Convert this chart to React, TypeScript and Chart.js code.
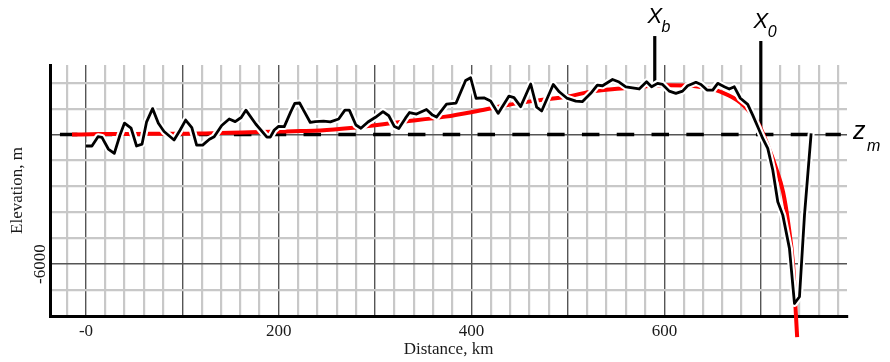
import { useEffect, useRef } from "react";
import { Chart, registerables } from "chart.js";

Chart.register(...registerables);

// Observed topography/bathymetry profile (black)
const distanceKm = [
  0, 6.2, 12.5, 16.6, 23.2, 29.4, 35.3, 40, 46.8, 52.5,
  58.2, 62.9, 69.1, 75.1, 81, 91.4, 97.7, 103.4, 109.8, 114.8,
  121, 128.1, 133, 140.8, 148.6, 154.8, 161, 165.9, 176.1, 187.7,
  191.2, 195.3, 199.8, 205.7, 212.5, 216.6, 221.6, 226.5, 232.7, 237.9,
  246.5, 253.5, 262.1, 268.6, 273.2, 280, 285.2, 292.5, 300.3, 308.1,
  314.1, 320, 324.5, 331.4, 335.6, 342.9, 353.2, 359.5, 363.6, 374,
  383.9, 393.8, 399, 404.7, 412.8, 419.7, 427.5, 438.8, 444, 450.9,
  461.3, 467.5, 472.7, 484.7, 490.9, 498.7, 508.1, 514.8, 523.6, 530.4,
  535.8, 546.2, 553, 560, 573.8, 581.5, 586.7, 592.9, 598.1, 605,
  611.9, 618.9, 624.1, 632.7, 638, 644.2, 650.1, 655.3, 662.1, 667.3,
  672.5, 678.8, 686.4, 691.6, 697.5, 702, 707.2, 712.4, 717.6, 722.8,
  729.7, 734.9, 740.1, 745.3, 752.2,
];
const elevationM = [
  -530, -530, -100, -130, -670, -870, -20, 530, 300, -530,
  -440, 590, 1200, 520, 140, -250, 210, 670, 320, -490,
  -490, -220, -100, 420, 720, 600, 790, 1130, 490, -120,
  -120, 210, 380, 370, 1060, 1440, 1460, 1060, 560, 600,
  620, 590, 720, 1130, 1130, 440, 290, 580, 800, 1060,
  870, 370, 280, 760, 1020, 950, 1160, 900, 810, 1410,
  1460, 2500, 2630, 1680, 1700, 1550, 980, 1780, 1710, 1290,
  2340, 1270, 1090, 2320, 1980, 1690, 1550, 1520, 1910, 2290,
  2260, 2550, 2430, 2210, 2110, 2440, 2210, 2370, 2320, 2010,
  1910, 2010, 2260, 2420, 2320, 2060, 2060, 2370, 2210, 2110,
  2210, 1680, 1400, 900, 290, -180, -640, -1640, -3110, -3730,
  -5270, -7820, -7510, -3730, 50,
];

// Model flexure profile (red)
const modelKm = [
  -14.5, 14.5, 66.5, 118.4, 170.4, 201.6, 222.3, 243.1, 274.3, 326.2,
  373, 402, 437.4, 471.7, 497.7, 526.8, 554.8, 578.7, 603.6, 622.3,
  638, 658.7, 679.5, 697.1, 707.5, 715.8, 723.1, 728.3, 733.5, 736.6, 737.7,
];
const modelM = [
  0, 20, 35, 50, 110, 140, 160, 185, 300, 580,
  830, 1055, 1370, 1600, 1750, 2010, 2130, 2230, 2280, 2270,
  2200, 1970, 1455, 530, -530, -1550, -2660, -4050, -6040, -8500, -9380,
];

// Mean level z_m (dashed)
const meanLevelKm = [-27, 783];
const meanLevelM = [0, 0];

// Markers X_b and X_0
const markerNames = ["X", "X"];
const markerSubs = ["b", "0"];
const markerKm = [590, 700];
const markerTopM = [4560, 4330];
const markerBaseM = [2400, 0];

// Axis ticks / grid
const xGridKm = [
  -20, 0, 20, 40, 60, 80, 100, 120, 140, 160, 180, 200, 220, 240, 260, 280,
  300, 320, 340, 360, 380, 400, 420, 440, 460, 480, 500, 520, 540, 560, 580,
  600, 620, 640, 660, 680, 700, 720, 740, 760, 780,
];
const xMajorKm = [0, 100, 200, 300, 400, 500, 600, 700];
const xTickValues = [0, 200, 400, 600];
const xTickLabels = ["-0", "200", "400", "600"];
const yGridM = [-7200, -6000, -4800, -3600, -2400, -1200, 0, 1200, 2400];
const yMajorM = [-6000, 0];
const yTickValues = [-6000];
const yTickLabels = ["-6000"];

const SERIF = '"Liberation Serif", "Times New Roman", serif';
const SANS = '"Liberation Sans", Arial, sans-serif';

const has = (arr: number[], v: number) => arr.some((t) => Math.abs(t - v) < 1e-6);

const annotationPlugin = {
  id: "annotations",
  afterDatasetsDraw(chart: any) {
    const { ctx, scales } = chart;
    const x = scales.x;
    const y = scales.y;
    ctx.save();
    ctx.fillStyle = "#000";
    ctx.textBaseline = "alphabetic";
    markerKm.forEach((km, i) => {
      const px = x.getPixelForValue(km);
      const top = y.getPixelForValue(markerTopM[i]);
      ctx.font = `italic 22px ${SANS}`;
      ctx.textAlign = "center";
      ctx.fillText(markerNames[i], px, top - 13);
      const w = ctx.measureText(markerNames[i]).width;
      ctx.font = `italic 16px ${SANS}`;
      ctx.textAlign = "left";
      ctx.fillText(markerSubs[i], px + w / 2 - 0.5, top - 4);
    });
    const zx = chart.chartArea.right + 6;
    const zy = y.getPixelForValue(meanLevelM[0]);
    ctx.textAlign = "left";
    ctx.font = `italic 25px ${SANS}`;
    ctx.fillText("z", zx, zy + 4);
    ctx.font = `italic 16px ${SANS}`;
    ctx.fillText("m", zx + 14, zy + 16);
    ctx.restore();
  },
};

export default function App() {
  const ref = useRef<HTMLCanvasElement>(null);

  useEffect(() => {
    const canvas = ref.current!;
    const profile = distanceKm.map((d, i) => ({ x: d, y: elevationM[i] }));
    const model = modelKm.map((d, i) => ({ x: d, y: modelM[i] }));
    const mean = meanLevelKm.map((d, i) => ({ x: d, y: meanLevelM[i] }));
    const markers = markerKm.map((km, i) => [
      { x: km, y: markerBaseM[i] },
      { x: km, y: markerTopM[i] },
    ]);

    const chart = new Chart(canvas, {
      type: "line",
      data: {
        datasets: [
          {
            label: "Elevation",
            data: profile,
            borderColor: "#000",
            borderWidth: 2.8,
            pointRadius: 0,
            borderJoinStyle: "round",
            tension: 0,
            order: 0,
          },
          {
            label: "halo",
            data: profile,
            borderColor: "#fff",
            borderWidth: 7,
            pointRadius: 0,
            borderJoinStyle: "round",
            tension: 0,
            order: 1,
          },
          {
            label: "Model",
            data: model,
            borderColor: "#ff0000",
            borderWidth: 4,
            pointRadius: 0,
            cubicInterpolationMode: "monotone",
            clip: false,
            order: 2,
          },
          ...markers.map((m, i) => ({
            label: markerNames[i] + markerSubs[i],
            data: m,
            borderColor: "#000",
            borderWidth: 3.2,
            pointRadius: 0,
            clip: false,
            order: 3,
          })),
          {
            label: "z_m",
            data: mean,
            borderColor: "#000",
            borderWidth: 3.5,
            borderDash: [17.5, 17.3],
            pointRadius: 0,
            order: 4,
          },
        ] as any,
      },
      options: {
        animation: false,
        responsive: false,
        devicePixelRatio: 1,
        layout: { padding: { top: 65, right: 43, left: 0, bottom: 0 } },
        plugins: {
          legend: { display: false },
          tooltip: { enabled: false },
        },
        scales: {
          x: {
            type: "linear",
            min: -37.3,
            max: 789.4,
            afterBuildTicks: (s: any) => {
              s.ticks = xGridKm.map((value) => ({ value }));
            },
            afterFit: (s: any) => {
              s.height = 46;
            },
            ticks: {
              autoSkip: false,
              maxRotation: 0,
              minRotation: 0,
              padding: 5.8,
              color: "#1a1a1a",
              font: { family: SERIF, size: 17 },
              callback: (v: any) => {
                const idx = xTickValues.findIndex((t) => Math.abs(t - v) < 1e-6);
                return idx >= 0 ? xTickLabels[idx] : "";
              },
            },
            grid: {
              drawTicks: false,
              color: (c: any) => {
                const v = c.tick ? c.tick.value : NaN;
                return has(xMajorKm, v) ? "#555555" : "#c8c8c8";
              },
              lineWidth: (c: any) => {
                const v = c.tick ? c.tick.value : NaN;
                return has(xMajorKm, v) ? 1.4 : 2.2;
              },
            },
            border: { display: true, color: "#000", width: 3 },
            title: {
              display: true,
              text: "Distance, km",
              color: "#1a1a1a",
              font: { family: SERIF, size: 17 },
              padding: { top: 0, bottom: 1.8 },
            },
          },
          y: {
            type: "linear",
            min: -8400,
            max: 3220,
            afterBuildTicks: (s: any) => {
              s.ticks = yGridM.map((value) => ({ value }));
            },
            afterFit: (s: any) => {
              s.width = 50;
            },
            ticks: {
              autoSkip: false,
              minRotation: 90,
              maxRotation: 90,
              crossAlign: "center",
              padding: -10.3,
              color: "#1a1a1a",
              font: { family: SERIF, size: 17 },
              callback: (v: any) => {
                const idx = yTickValues.findIndex((t) => Math.abs(t - v) < 1e-6);
                return idx >= 0 ? yTickLabels[idx] : "";
              },
            },
            grid: {
              drawTicks: false,
              color: (c: any) => {
                const v = c.tick ? c.tick.value : NaN;
                return has(yMajorM, v) ? "#555555" : "#c8c8c8";
              },
              lineWidth: (c: any) => {
                const v = c.tick ? c.tick.value : NaN;
                return has(yMajorM, v) ? 1.4 : 2.2;
              },
            },
            border: { display: true, color: "#000", width: 3 },
            title: {
              display: true,
              text: "Elevation, m",
              color: "#1a1a1a",
              font: { family: SERIF, size: 17 },
              padding: { top: 7.8, bottom: 0 },
            },
          },
        },
      } as any,
      plugins: [annotationPlugin],
    });

    return () => chart.destroy();
  }, []);

  return (
    <div
      style={{
        position: "fixed",
        left: 0,
        top: 0,
        width: 890,
        height: 362,
        background: "#fff",
      }}
    >
      <canvas
        ref={ref}
        width={890}
        height={362}
        style={{ display: "block", width: 890, height: 362 }}
      />
    </div>
  );
}
